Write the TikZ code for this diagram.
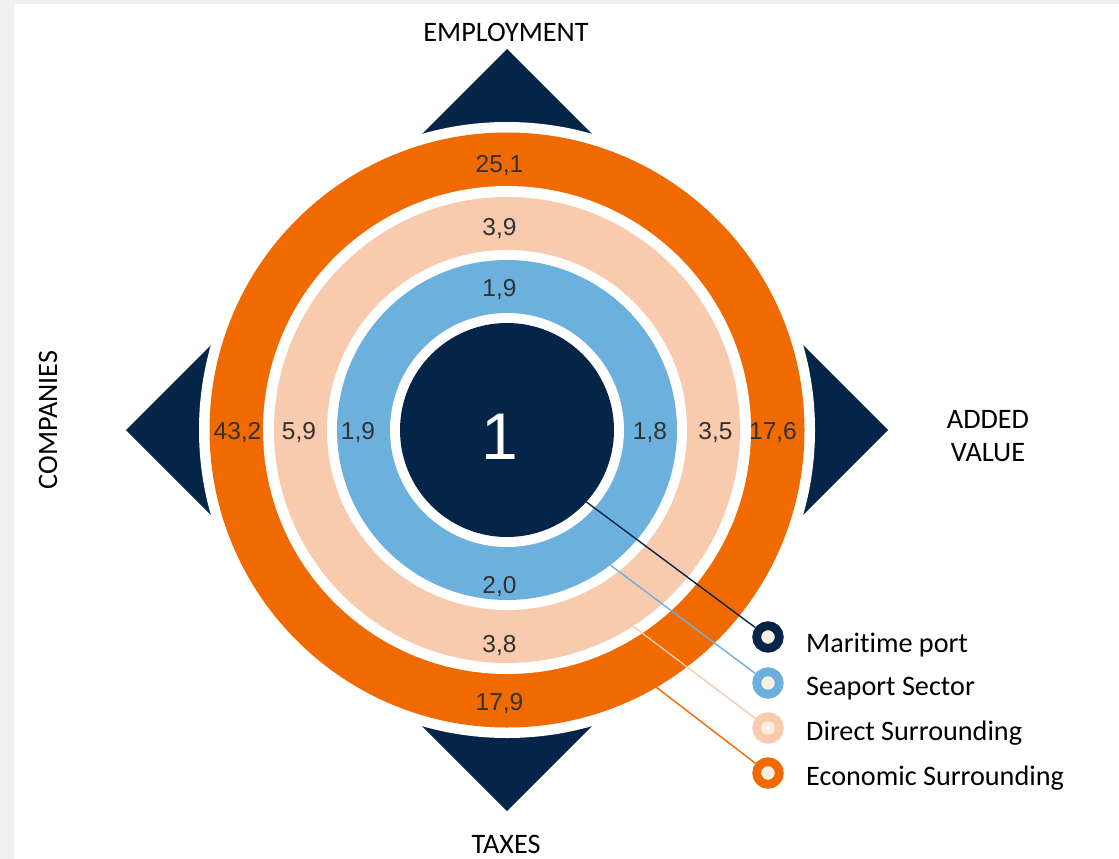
\documentclass[tikz,border=0pt]{standalone}
\usepackage{fontspec}
\setmainfont{Carlito}[Ligatures=NoCommon]
\newfontfamily\numfont{Liberation Sans}
\usetikzlibrary{calc}
\definecolor{navy}{RGB}{5,37,72}
\definecolor{skyb}{RGB}{108,176,221}
\definecolor{peach}{RGB}{248,202,174}
\definecolor{orng}{RGB}{240,106,0}
\definecolor{cream}{RGB}{250,240,226}
\definecolor{numgray}{RGB}{50,50,50}
\definecolor{framegray}{RGB}{240,240,240}
\pgfdeclarelayer{bg}
\pgfsetlayers{bg,main}
\begin{document}
\begin{tikzpicture}[x=1pt,y=-1pt,
  lab/.style={font=\fontsize{28.2}{33}\selectfont, text=black, inner sep=0pt},
  num/.style={font=\numfont\fontsize{24.5}{24.5}\selectfont, text=numgray, anchor=base, inner sep=0pt},
  legdot/.style={circle, line width=8.8pt, fill=cream, minimum size=22.6pt, inner sep=0pt},
  conn/.style={line width=1.4pt},
  arrowtri/.style={fill=navy}]
\useasboundingbox (0,0) rectangle (1119,859);
\coordinate (c) at (507,430);

% legend markers (main layer, above connectors)
\node[legdot, draw=navy]  (lmp) at (768,637) {};
\node[legdot, draw=skyb]  (lss) at (768,683) {};
\node[legdot, draw=peach] (lds) at (768,728) {};
\node[legdot, draw=orng]  (les) at (768,773) {};

\begin{pgfonlayer}{bg}
\fill[framegray] (0,0) rectangle (1119,859);
\fill[white] (14,4) rectangle (1119,859);
% direction triangles
\fill[arrowtri] (507,49) -- (337,219) -- (677,219) -- cycle;
\fill[arrowtri] (507,811) -- (337,641) -- (677,641) -- cycle;
\fill[arrowtri] (126,430) -- (296,260) -- (296,600) -- cycle;
\fill[arrowtri] (888,430) -- (718,260) -- (718,600) -- cycle;
% rings
\fill[white] (c) circle (308pt);
\fill[orng]  (c) circle (297.5pt);
\fill[white] (c) circle (244pt);
\fill[peach] (c) circle (233pt);
\fill[white] (c) circle (180pt);
\fill[skyb]  (c) circle (170pt);
\fill[white] (c) circle (117pt);
\fill[navy]  (c) circle (107pt);
% connector start points
\coordinate (s1) at ($(c)+(42.2:107)$);
\coordinate (s2) at ($(c)+(52.6:170)$);
\coordinate (s3) at ($(c)+(57.3:233)$);
\coordinate (s4) at ($(c)+(59.9:297)$);
\draw[conn, navy]  (s1) -- (lmp);
\draw[conn, skyb]  (s2) -- (lss);
\draw[conn, peach] (s3) -- (lds);
\draw[conn, orng]  (s4) -- (les);
\end{pgfonlayer}

% centre value
\node[font=\numfont\fontsize{66}{66}\selectfont, text=white, anchor=base, inner sep=0pt] (one) at (500,459) {1};

% ring values
\node[num] (t1) at (499.5,172) {25,1};
\node[num] (t2) at (499.5,235) {3,9};
\node[num] (t3) at (499.5,296) {1,9};
\node[num] (b1) at (499.5,593) {2,0};
\node[num] (b2) at (499.5,652) {3,8};
\node[num] (b3) at (499.5,710) {17,9};
\node[num] (l1) at (237.5,439) {43,2};
\node[num] (l2) at (299,439) {5,9};
\node[num] (l3) at (358,439) {1,9};
\node[num] (r1) at (650,439) {1,8};
\node[num] (r2) at (715.5,439) {3,5};
\node[num] (r3) at (773,439) {17,6};

% axis labels
\node[lab, anchor=base] (emp) at (506,42) {EMPLOYMENT};
\node[lab, anchor=base] (tax) at (506,853) {TAXES};
\node[lab, anchor=base, rotate=90] (comp) at (57,420) {COMPANIES};
\node[lab, anchor=base] (added) at (988,428) {ADDED};
\node[lab, anchor=base] (value) at (988,461) {VALUE};

% legend texts
\node[lab, anchor=base west] (tmp) at (806,652) {Maritime port};
\node[lab, anchor=base west] (tss) at (806,695) {Seaport Sector};
\node[lab, anchor=base west] (tds) at (806,740) {Direct Surrounding};
\node[lab, anchor=base west] (tes) at (806,785) {Economic Surrounding};
\end{tikzpicture}
\end{document}
